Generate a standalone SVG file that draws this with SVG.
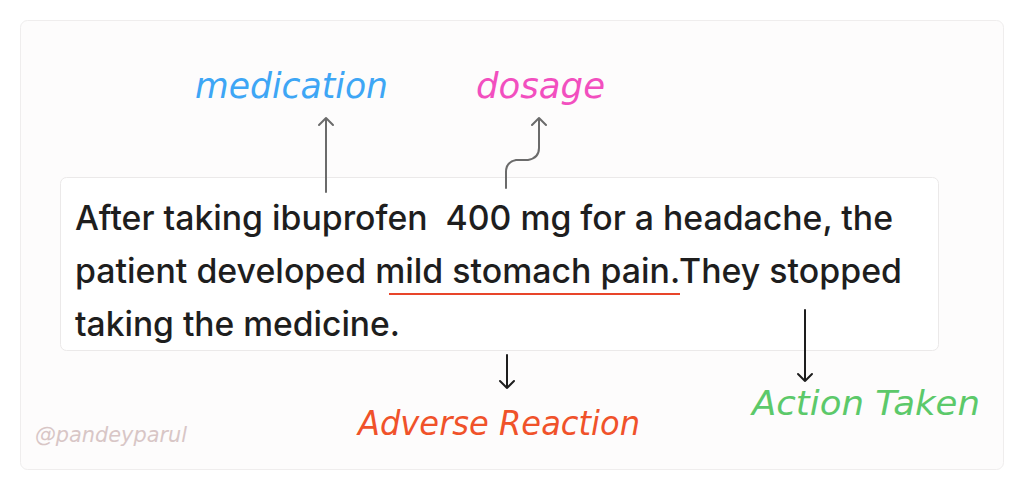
<svg xmlns="http://www.w3.org/2000/svg" width="1024" height="491" viewBox="0 0 1024 491">
<defs>
<style>
.main{font-family:Inter,"Liberation Sans",sans-serif;font-size:34px;font-weight:500;fill:#1e1e1e;white-space:pre}
.hand{font-family:"DejaVu Sans",sans-serif;font-style:italic;font-weight:300}
.conn{fill:none;stroke:#6b6b6b;stroke-width:2;stroke-linecap:round;stroke-linejoin:round}
.dark{stroke:#1e1e1e}
</style>
</defs>
<rect x="0" y="0" width="1024" height="491" fill="#ffffff"/>
<g id="frame">
<rect x="20.5" y="20.5" width="983" height="449" rx="7" fill="#fdfcfc" stroke="#efeded"/>
</g>
<g id="sentence">
<rect x="60.5" y="177.5" width="878" height="173" rx="6" fill="#ffffff" stroke="#ebe9e9"/>
<text class="main" x="75" y="230" xml:space="preserve" textLength="818" lengthAdjust="spacingAndGlyphs">After taking ibuprofen  400 mg for a headache, the</text>
<text class="main" x="75" y="283" textLength="827" lengthAdjust="spacingAndGlyphs">patient developed mild stomach pain.They stopped</text>
<text class="main" x="75" y="336" textLength="325" lengthAdjust="spacingAndGlyphs">taking the medicine.</text>
<line x1="389" y1="294" x2="680" y2="294" stroke="#e8452a" stroke-width="2"/>
</g>
<g id="connectors">
<path class="conn" d="M326 192 V118 M319 125 L326 118 L333 125"/>
<path class="conn" d="M506 188 V172 Q506 162 516 160 H528 Q539 158 539 148 V118 M532 125 L539 118 L546 125"/>
<path class="conn dark" d="M507 355 V388 M500 381 L507 388 L514 381"/>
<path class="conn dark" d="M805 310 V381 M798 374 L805 381 L812 374"/>
</g>
<g id="label-medication"><text class="hand" x="195" y="98" font-size="36" fill="#3ea6f5" textLength="193" lengthAdjust="spacingAndGlyphs">medication</text></g>
<g id="label-dosage"><text class="hand" x="476" y="98" font-size="36" fill="#f24fbf" textLength="129" lengthAdjust="spacingAndGlyphs">dosage</text></g>
<g id="label-adverse"><text class="hand" x="358" y="435" font-size="34" fill="#f0522a" textLength="282" lengthAdjust="spacingAndGlyphs">Adverse Reaction</text></g>
<g id="label-action"><text class="hand" x="752" y="415" font-size="34" fill="#5cc96a" textLength="228" lengthAdjust="spacingAndGlyphs">Action Taken</text></g>
<g id="credit"><text class="hand" x="35" y="442" font-size="22" fill="#d8c6c6" textLength="152" lengthAdjust="spacingAndGlyphs">@pandeyparul</text></g>
</svg>
